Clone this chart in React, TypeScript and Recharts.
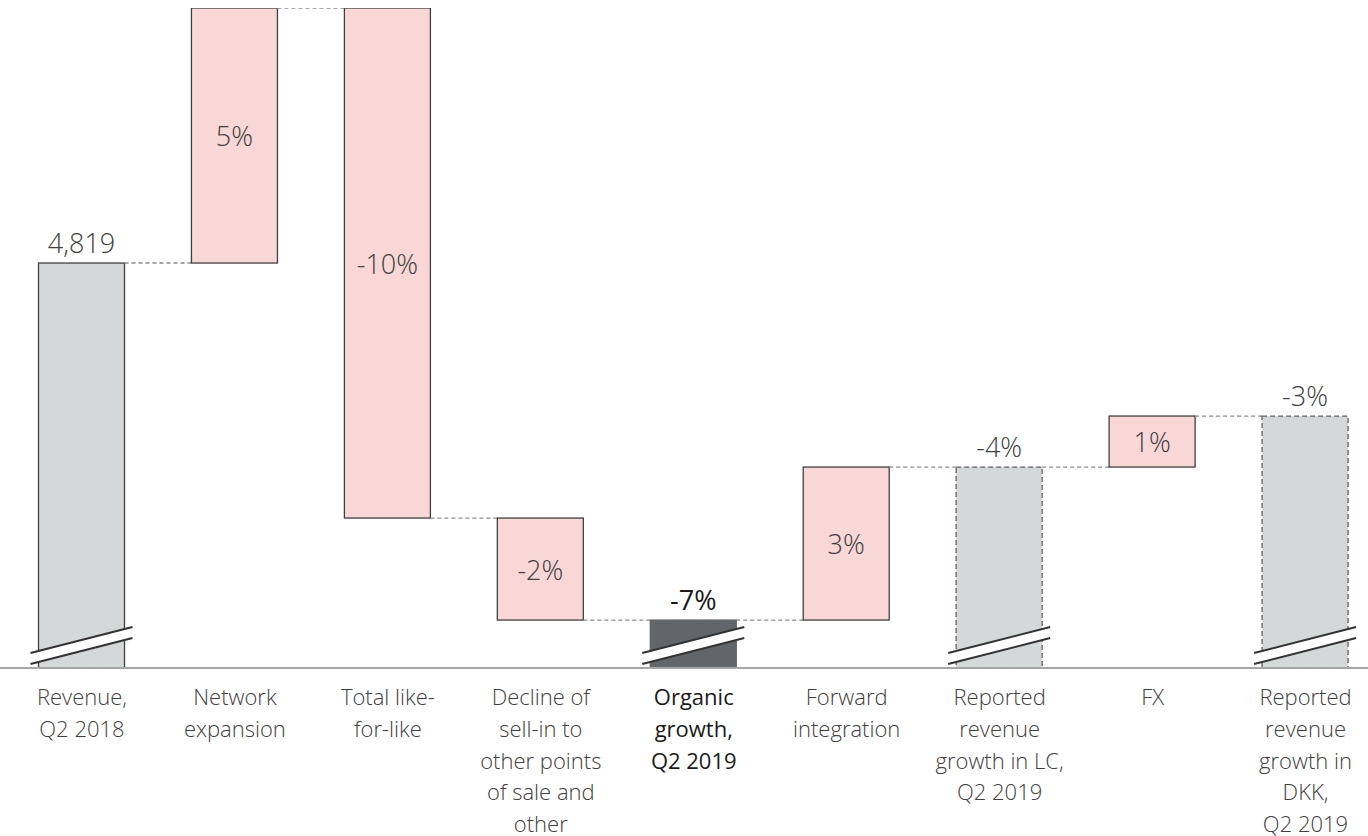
import { BarChart, Bar, XAxis, YAxis } from "recharts";

// categories (line breaks as in the slide)
const categories = [
  "Revenue,\nQ2 2018",
  "Network\nexpansion",
  "Total like-\nfor-like",
  "Decline of\nsell-in to\nother points\nof sale and\nother",
  "Organic\ngrowth,\nQ2 2019",
  "Forward\nintegration",
  "Reported\nrevenue\ngrowth in LC,\nQ2 2019",
  "FX",
  "Reported\nrevenue\ngrowth in\nDKK,\nQ2 2019",
];
// totals are levels (pct vs Q2 2018), deltas are changes in pct points
const steps = [0, 5, -10, -2, -7, 3, -4, 1, -3];
const kinds = ["base", "delta", "delta", "delta", "organic", "delta", "reported", "delta", "reported"];
const valueLabels = ["4,819", "5%", "-10%", "-2%", "-7%", "3%", "-4%", "1%", "-3%"];

const AXIS_MIN = -7.94; // broken axis, bars start below the organic level
const AXIS_MAX = 5;
const BAND = 1376.5 / categories.length;

const FONT = "'Open Sans', sans-serif";
const TEXT = "#404040";

const data = (() => {
  let running = 0;
  return categories.map((name, i) => {
    const kind = kinds[i];
    let low: number, high: number, end: number;
    if (kind === "delta") {
      const start = running;
      end = running + steps[i];
      low = Math.min(start, end);
      high = Math.max(start, end);
    } else {
      low = AXIS_MIN;
      high = steps[i];
      end = steps[i];
    }
    running = end;
    return { name, kind, range: [low, high], high, end, label: valueLabels[i], last: i === categories.length - 1 };
  });
})();

function WaterfallShape(props: any) {
  const { x, width, payload } = props;
  const top = Math.min(props.y, props.y + props.height);
  const h = Math.abs(props.height);
  const bottom = top + h;
  const kind = payload.kind;
  const levelY = payload.end === payload.high ? top : bottom;

  let fill = "#f8d7d6", stroke = "#404040", dash: string | undefined;
  if (kind === "base") fill = "#d5d8d8";
  if (kind === "reported") { fill = "#d5d8d8"; stroke = "#606060"; dash = "5 3"; }
  if (kind === "organic") { fill = "#636669"; stroke = "#636669"; }

  const isTotal = kind !== "delta";
  const x0 = x - 8, x1 = x + width + 8;
  const labelY = isTotal ? top - 21 : top + h / 2;

  return (
    <g>
      <rect x={x} y={top} width={width} height={h} fill={fill} stroke={stroke} strokeWidth={1.3} strokeDasharray={dash} />
      {isTotal && (
        <g>
          <polygon points={`${x0},${bottom - 15} ${x1},${bottom - 41} ${x1},${bottom - 30} ${x0},${bottom - 4}`} fill="#fff" />
          <line x1={x0} y1={bottom - 15} x2={x1} y2={bottom - 41} stroke="#333" strokeWidth={2} />
          <line x1={x0} y1={bottom - 4} x2={x1} y2={bottom - 30} stroke="#333" strokeWidth={2} />
        </g>
      )}
      {!payload.last && (
        <line x1={x + width} y1={levelY} x2={x + BAND} y2={levelY} stroke="#8a8a8a" strokeWidth={1.3} strokeDasharray="4 3" />
      )}
      <text
        x={x + width / 2}
        y={labelY}
        textAnchor="middle"
        dominantBaseline="central"
        fontFamily={FONT}
        fontSize={27}
        fontWeight={kind === "organic" ? 400 : 300}
        fill={kind === "organic" ? "#1a1a1a" : TEXT}
      >
        {payload.label}
      </text>
    </g>
  );
}

function CategoryTick({ x, y, payload }: any) {
  const value = String(payload.value);
  const strong = value.startsWith("Organic");
  return (
    <g>
      {value.split("\n").map((line, i) => (
        <text
          key={i}
          x={x}
          y={y + 28 + i * 31.8}
          textAnchor="middle"
          dominantBaseline="central"
          fontFamily={FONT}
          fontSize={22}
          fontWeight={strong ? 400 : 300}
          fill={strong ? "#1a1a1a" : TEXT}
        >
          {line}
        </text>
      ))}
    </g>
  );
}

export default function App() {
  return (
    <div style={{ position: "absolute", left: 0, top: 0, width: 1368, height: 836, overflow: "hidden", background: "#fff" }}>
      <style>{"body{margin:0;overflow:hidden}"}</style>
      <BarChart width={1390} height={836} data={data} margin={{ top: 8, right: 0, left: 0, bottom: 0 }} barSize={86}>
        <XAxis
          dataKey="name"
          interval={0}
          height={168}
          tickLine={false}
          tickSize={0}
          tickMargin={0}
          padding={{ left: 5.5, right: 8 }}
          axisLine={{ stroke: "#a6a6a6", strokeWidth: 2 }}
          tick={<CategoryTick />}
        />
        <YAxis hide domain={[AXIS_MIN, AXIS_MAX]} allowDataOverflow />
        <Bar dataKey="range" shape={<WaterfallShape />} isAnimationActive={false} />
      </BarChart>
    </div>
  );
}
